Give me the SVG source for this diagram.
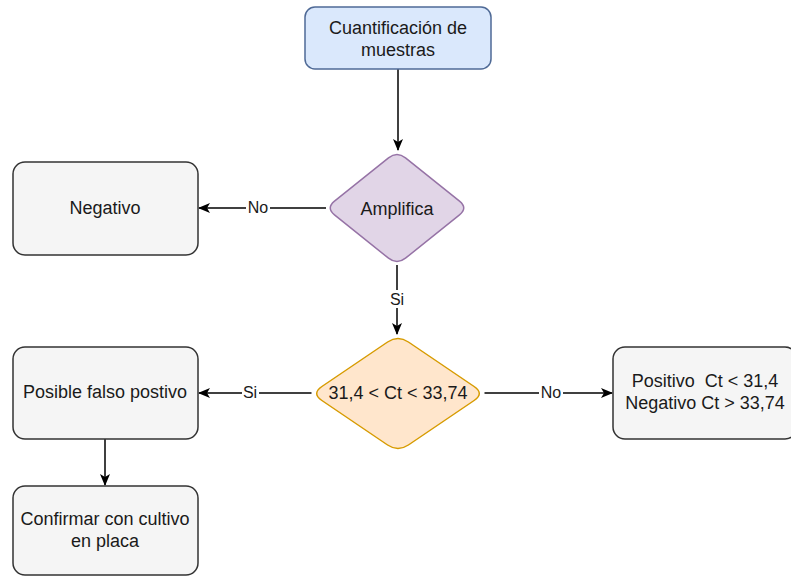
<svg xmlns="http://www.w3.org/2000/svg" width="791" height="576" viewBox="0 0 791 576">
<style>
.t{font-family:"Liberation Sans",Arial,sans-serif;font-size:18px;fill:#1a1a1a;text-anchor:middle;white-space:pre}
.l{font-family:"Liberation Sans",Arial,sans-serif;font-size:16px;fill:#1a1a1a;text-anchor:middle}
.grey{fill:#f5f5f5;stroke:#333333;stroke-width:1.5}
.edge{fill:none;stroke:#000000;stroke-width:1.5}
</style>
<defs>
<marker id="arr" viewBox="0 0 12 10" refX="11" refY="5" markerWidth="12" markerHeight="10" markerUnits="userSpaceOnUse" orient="auto">
<path d="M0,0 L12,5 L0,10 L3,5 Z" fill="#000"/>
</marker>
</defs>
<rect width="791" height="576" fill="#ffffff"/>
<g id="connectors">
<line class="edge" x1="398" y1="69" x2="398" y2="150" marker-end="url(#arr)"/>
<line class="edge" x1="326" y1="208" x2="199" y2="208" marker-end="url(#arr)"/>
<line class="edge" x1="397" y1="265" x2="397" y2="334" marker-end="url(#arr)"/>
<line class="edge" x1="311.5" y1="393" x2="199" y2="393" marker-end="url(#arr)"/>
<line class="edge" x1="484.5" y1="393" x2="612" y2="393" marker-end="url(#arr)"/>
<line class="edge" x1="105" y1="439" x2="105" y2="485" marker-end="url(#arr)"/>
<rect x="246" y="199" width="24" height="18" fill="#fff"/>
<text class="l" x="258" y="213">No</text>
<rect x="389" y="290" width="17" height="18" fill="#fff"/>
<text class="l" x="397" y="305">Si</text>
<rect x="242" y="384" width="17" height="18" fill="#fff"/>
<text class="l" x="250" y="398">Si</text>
<rect x="539" y="384" width="24" height="18" fill="#fff"/>
<text class="l" x="551" y="398">No</text>
</g>
<g id="cuantificacion">
<rect x="305" y="7" width="186" height="62" rx="10" fill="#dae8fc" stroke="#4f6a96" stroke-width="1.5"/>
<text class="t" x="398" y="33.5">Cuantificación de</text>
<text class="t" x="398" y="55.5">muestras</text>
</g>
<g id="amplifica">
<path d="M405.5,157.8 L459.5,201.2 Q468,208 459.5,214.8 L405.5,258.2 Q397,265 388.5,258.2 L334.5,214.8 Q326,208 334.5,201.2 L388.5,157.8 Q397,151 405.5,157.8 Z" fill="#e1d5e7" stroke="#9673a6" stroke-width="1.5"/>
<text class="t" x="397" y="215">Amplifica</text>
</g>
<g id="negativo">
<rect class="grey" x="13" y="162" width="185" height="93" rx="12"/>
<text class="t" x="105" y="214">Negativo</text>
</g>
<g id="rango">
<path d="M408.4,342 L474.1,386.5 Q484.5,393.5 474.1,400.5 L408.4,445 Q398,452 387.6,445 L321.9,400.5 Q311.5,393.5 321.9,386.5 L387.6,342 Q398,335 408.4,342 Z" fill="#ffe6cc" stroke="#d79b00" stroke-width="1.5"/>
<text class="t" x="398" y="399">31,4 &lt; Ct &lt; 33,74</text>
</g>
<g id="falso">
<rect class="grey" x="13" y="347" width="185" height="92" rx="12"/>
<text class="t" x="105" y="398">Posible falso postivo</text>
</g>
<g id="resultado">
<rect class="grey" x="613" y="347" width="184" height="92" rx="12"/>
<text class="t" x="705" y="387">Positivo  Ct &lt; 31,4</text>
<text class="t" x="705" y="409">Negativo Ct &gt; 33,74</text>
</g>
<g id="confirmar">
<rect class="grey" x="13" y="486" width="185" height="89" rx="12"/>
<text class="t" x="105" y="525">Confirmar con cultivo</text>
<text class="t" x="105" y="547">en placa</text>
</g>
</svg>
